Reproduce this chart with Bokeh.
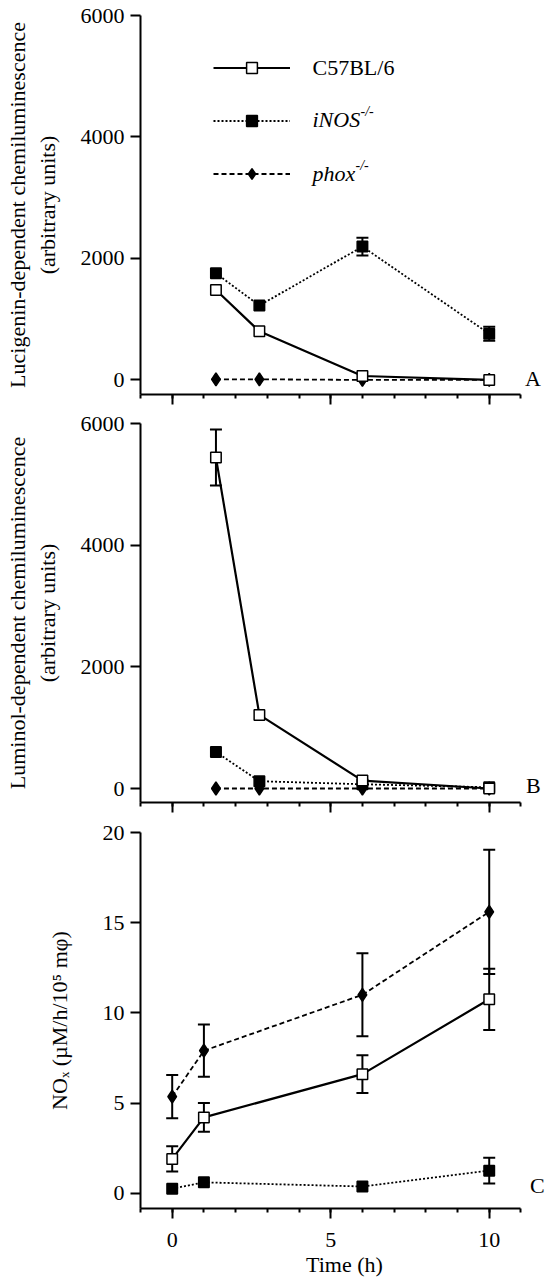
from bokeh.plotting import figure
from bokeh.models import (ColumnDataSource, Whisker, TeeHead, FixedTicker, Legend,
                          LegendItem, Label, Range1d)
from bokeh.layouts import column
from bokeh.embed import file_html
from bokeh.resources import INLINE

FONT = "Liberation Serif"

# ---------------- data ----------------
time_ab = [1.38, 2.75, 6, 10]          # h, panels A and B
time_c = [0, 1, 6, 10]                 # h, panel C

strains = ["C57BL/6", "iNOS", "phox"]

lucigenin_c57 = [1480, 800, 65, 0]
lucigenin_c57_err = [0, 0, 0, 0]
lucigenin_inos = [1755, 1225, 2195, 760]
lucigenin_inos_err = [0, 0, 145, 115]
lucigenin_phox = [10, 10, 0, 0]
lucigenin_phox_err = [0, 0, 0, 0]

luminol_c57 = [5440, 1210, 130, 0]
luminol_c57_err = [460, 0, 0, 0]
luminol_inos = [600, 120, 70, 20]
luminol_inos_err = [0, 0, 0, 0]
luminol_phox = [0, 0, 0, 0]
luminol_phox_err = [0, 0, 0, 0]

nox_c57 = [1.9, 4.2, 6.6, 10.75]
nox_c57_err = [0.7, 0.8, 1.05, 1.7]
nox_inos = [0.25, 0.6, 0.37, 1.25]
nox_inos_err = [0, 0, 0, 0.72]
nox_phox = [5.35, 7.9, 11.0, 15.6]
nox_phox_err = [1.2, 1.45, 2.3, 3.45]

y_ticks_cl = [0, 2000, 4000, 6000]
y_ticks_nox = [0, 5, 10, 15, 20]
x_major = [0, 5, 10]
x_minor = list(range(-1, 12))
x_axis_bounds = (-1, 11)

# ---------------- styles ----------------
STYLE = {
    "C57BL/6": dict(dash="solid", lw=2.2, marker="square", size=10.5, fill="white"),
    "iNOS": dict(dash="2 2", lw=1.8, marker="square", size=10.5, fill="black"),
    "phox": dict(dash="5 3", lw=1.8, marker="diamond", size=13, fill="black"),
}


def make_panel(x, data, yr, yticks, ylabel, letter, letter_dx, letter_dy, h, top, bottom,
               show_x, ylabel_standoff):
    # the frame runs a little past the axis end, so the panel letter fits inside it
    p = figure(width=548, height=h, min_border_left=140, min_border_right=0,
               min_border_top=top, min_border_bottom=bottom,
               x_range=Range1d(-1, 11.87), y_range=Range1d(*yr),
               output_backend="svg", toolbar_location=None)
    p.outline_line_color = None
    p.grid.visible = False

    rends = {}
    # draw phox first, C57 last (on top)
    for name in ["phox", "iNOS", "C57BL/6"]:
        ys, errs = data[name]
        st = STYLE[name]
        ln = p.line(x, ys, line_color="black", line_width=st["lw"], line_dash=st["dash"])
        xs_e = [xi for xi, e in zip(x, errs) if e > 0]
        up = [yi + e for yi, e in zip(ys, errs) if e > 0]
        lo = [yi - e for yi, e in zip(ys, errs) if e > 0]
        if xs_e:
            src = ColumnDataSource(dict(x=xs_e, upper=up, lower=lo))
            p.add_layout(Whisker(source=src, base="x", upper="upper", lower="lower",
                                 line_width=2, line_color="black", level="underlay",
                                 upper_head=TeeHead(size=12, line_width=2),
                                 lower_head=TeeHead(size=12, line_width=2)))
        sc = p.scatter(x, ys, marker=st["marker"], size=st["size"], fill_color=st["fill"],
                       line_color="black", line_width=1.5)
        rends[name] = [ln, sc]

    # x axis
    ax = p.xaxis[0]
    ax.bounds = x_axis_bounds
    ax.ticker = FixedTicker(ticks=x_major, minor_ticks=x_minor)
    ax.axis_line_width = 2
    ax.major_tick_line_width = 2
    ax.minor_tick_line_width = 2
    ax.major_tick_out = 10
    ax.major_tick_in = 0
    ax.minor_tick_out = 4
    ax.minor_tick_in = 0
    ax.major_label_text_font = FONT
    ax.major_label_text_color = "black"
    if show_x:
        ax.major_label_text_font_size = "22px"
        ax.major_label_standoff = 14
        ax.axis_label = "Time (h)"
        ax.axis_label_text_font = FONT
        ax.axis_label_text_font_size = "22px"
        ax.axis_label_text_font_style = "normal"
        ax.axis_label_text_color = "black"
        ax.axis_label_standoff = 2
    else:
        ax.major_label_overrides = {t: "" for t in x_major}
        ax.major_label_text_font_size = "1px"
        ax.major_label_standoff = 0

    # y axis
    ay = p.yaxis[0]
    ay.ticker = FixedTicker(ticks=yticks, minor_ticks=[])
    ay.axis_line_width = 2
    ay.major_tick_line_width = 2
    ay.major_tick_out = 10
    ay.major_tick_in = 0
    ay.minor_tick_out = 0
    ay.minor_tick_in = 0
    ay.major_label_text_font = FONT
    ay.major_label_text_font_size = "22px"
    ay.major_label_text_color = "black"
    ay.major_label_standoff = 6
    ay.axis_label = ylabel
    ay.axis_label_text_font = FONT
    ay.axis_label_text_font_size = "22px"
    ay.axis_label_text_font_style = "normal"
    ay.axis_label_text_color = "black"
    ay.axis_label_standoff = ylabel_standoff

    # panel letter, right of the axis end, level with zero
    p.add_layout(Label(x=x_axis_bounds[1], y=0, x_offset=letter_dx, y_offset=letter_dy,
                       text=letter, text_font=FONT, text_font_size="22px",
                       text_baseline="middle", text_align="left", text_color="black"))
    return p, rends


pA, rA = make_panel(time_ab,
                    {"C57BL/6": (lucigenin_c57, lucigenin_c57_err),
                     "iNOS": (lucigenin_inos, lucigenin_inos_err),
                     "phox": (lucigenin_phox, lucigenin_phox_err)},
                    (-240, 6000), y_ticks_cl,
                    "Lucigenin-dependent chemiluminescence\n(arbitrary units)",
                    "A", 4, 1, 408, 15, 14, False, 18)

pB, rB = make_panel(time_ab,
                    {"C57BL/6": (luminol_c57, luminol_c57_err),
                     "iNOS": (luminol_inos, luminol_inos_err),
                     "phox": (luminol_phox, luminol_phox_err)},
                    (-230, 6000), y_ticks_cl,
                    "Luminol-dependent chemiluminescence\n(arbitrary units)",
                    "B", 5, 3, 408, 15, 14, False, 18)

pC, rC = make_panel(time_c,
                    {"C57BL/6": (nox_c57, nox_c57_err),
                     "iNOS": (nox_inos, nox_inos_err),
                     "phox": (nox_phox, nox_phox_err)},
                    (-0.85, 20), y_ticks_nox,
                    "NOₓ (µM/h/10⁵ mφ)",
                    "C", 9, 8, 463, 16, 68, True, 28)

# legend in panel A: glyph samples from Bokeh, texts as labels
legend = Legend(items=[LegendItem(label=" ", renderers=rA[n]) for n in strains],
                location=(73, 207), orientation="vertical",
                glyph_width=77, glyph_height=27, spacing=26,
                label_standoff=0, label_width=0, label_height=27,
                label_text_font_size="2px",
                padding=0, margin=0, border_line_color=None,
                background_fill_alpha=0)
pA.add_layout(legend, "center")

row_y = [327, 275, 221]
pA.add_layout(Label(x=172, y=row_y[0], x_units="screen", y_units="screen", text=strains[0],
                    text_font=FONT, text_font_size="22px", text_baseline="middle",
                    text_color="black"))
for i, (name, w) in enumerate([(strains[1], 48), (strains[2], 43)], start=1):
    pA.add_layout(Label(x=172, y=row_y[i], x_units="screen", y_units="screen", text=name,
                        text_font=FONT, text_font_size="22px", text_font_style="italic",
                        text_baseline="middle", text_color="black"))
    pA.add_layout(Label(x=172 + w, y=row_y[i] + 8, x_units="screen", y_units="screen",
                        text="-/-", text_font=FONT, text_font_size="14px",
                        text_font_style="italic", text_baseline="middle",
                        text_color="black"))

layout = column(pA, pB, pC, spacing=0)
open("out.html", "w").write(file_html(layout, INLINE))
